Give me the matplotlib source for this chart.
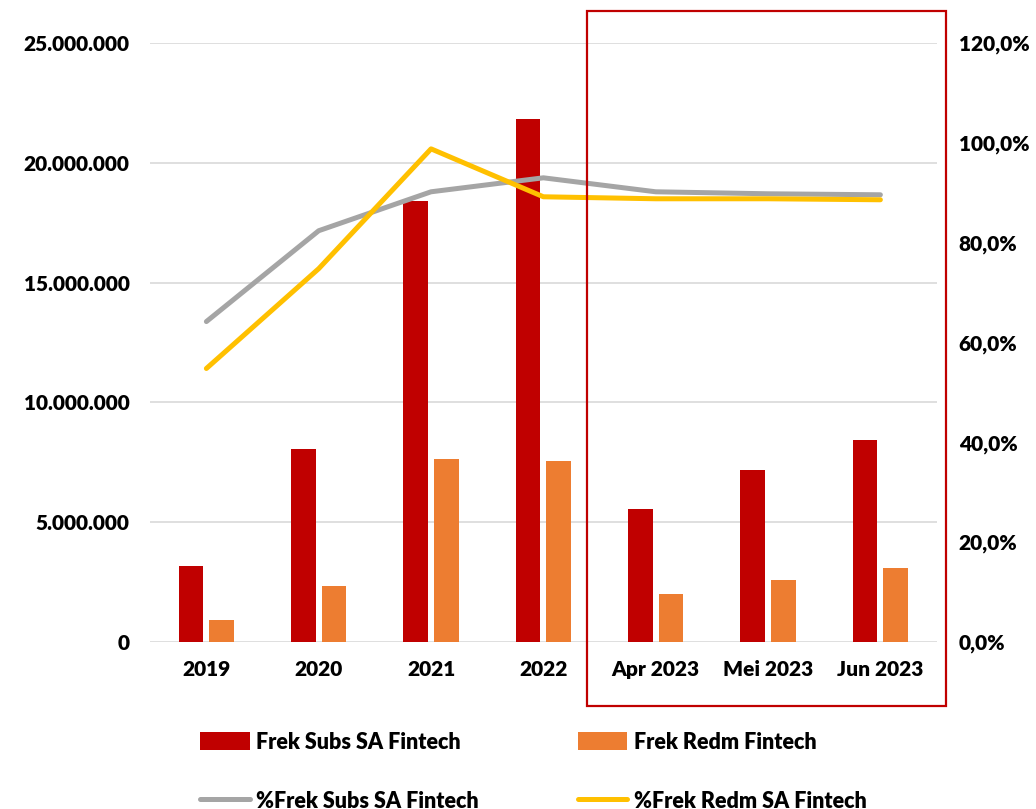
import matplotlib.pyplot as plt
import numpy as np
from matplotlib.patches import Rectangle
from matplotlib.ticker import FuncFormatter

plt.rcParams["font.family"] = ["Lato", "DejaVu Sans"]
plt.rcParams["font.weight"] = "heavy"

categories = ["2019", "2020", "2021", "2022", "Apr 2023", "Mei 2023", "Jun 2023"]
frek_subs = [3.17e6, 8.04e6, 18.42e6, 21.83e6, 5.54e6, 7.17e6, 8.42e6]
frek_redm = [0.92e6, 2.33e6, 7.63e6, 7.54e6, 2.00e6, 2.58e6, 3.08e6]
pct_subs = [64.2, 82.4, 90.2, 93.0, 90.2, 89.8, 89.6]
pct_redm = [54.8, 74.8, 98.8, 89.2, 88.8, 88.8, 88.6]

RED = "#C00000"
ORANGE = "#ED7D31"
GRAY = "#A5A5A5"
YELLOW = "#FFC000"


def thousands(v, pos):
    return "0" if v == 0 else f"{v:,.0f}".replace(",", ".")


def pct(v, pos):
    return f"{v:.1f}%".replace(".", ",")


fig = plt.figure(figsize=(10.36, 8.09), dpi=100)
ax = fig.add_axes([0.145, 0.2064, 0.759, 0.7404])
ax2 = ax.twinx()

x = np.arange(len(categories))
w = 0.22
b1 = ax.bar(x - 0.137, frek_subs, w, color=RED, label="Frek Subs SA Fintech", zorder=2)
b2 = ax.bar(x + 0.137, frek_redm, w, color=ORANGE, label="Frek Redm Fintech", zorder=2)
l1, = ax2.plot(x, pct_subs, color=GRAY, lw=3.6, solid_capstyle="round",
               solid_joinstyle="round", label="%Frek Subs SA Fintech")
l2, = ax2.plot(x, pct_redm, color=YELLOW, lw=3.6, solid_capstyle="round",
               solid_joinstyle="round", label="%Frek Redm SA Fintech")

ax.set_xlim(-0.5, len(categories) - 0.5)
ax.set_ylim(0, 25e6)
ax.set_yticks(np.arange(0, 25e6 + 1, 5e6))
ax.yaxis.set_major_formatter(FuncFormatter(thousands))
ax2.set_ylim(0, 120)
ax2.set_yticks(np.arange(0, 121, 20))
ax2.yaxis.set_major_formatter(FuncFormatter(pct))

ax.set_xticks(x)
ax.set_xticklabels(categories)
ax.grid(axis="y", color="#D9D9D9", lw=1.2, zorder=0)
ax.set_axisbelow(True)
for a in (ax, ax2):
    for s in a.spines.values():
        s.set_visible(False)
    a.tick_params(length=0, labelsize=15)
ax.tick_params(axis="y", pad=15)
ax.tick_params(axis="x", pad=13)
ax2.tick_params(axis="y", pad=16)

fig.patches.append(Rectangle((587 / 1036, 1 - 706 / 809), (946 - 587) / 1036, (706 - 11) / 809,
                             transform=fig.transFigure, fill=False, edgecolor=RED, lw=1.6))

fig.legend([b1, l1, b2, l2],
           ["Frek Subs SA Fintech", "%Frek Subs SA Fintech", "Frek Redm Fintech", "%Frek Redm SA Fintech"],
           ncol=2, loc="upper left", bbox_to_anchor=(0.185, 0.106), frameon=False,
           fontsize=15.5, handlelength=2.3, handleheight=0.9, labelspacing=1.75,
           columnspacing=4.6, handletextpad=0.3, borderaxespad=0)

fig.savefig("out.png", dpi=100)
